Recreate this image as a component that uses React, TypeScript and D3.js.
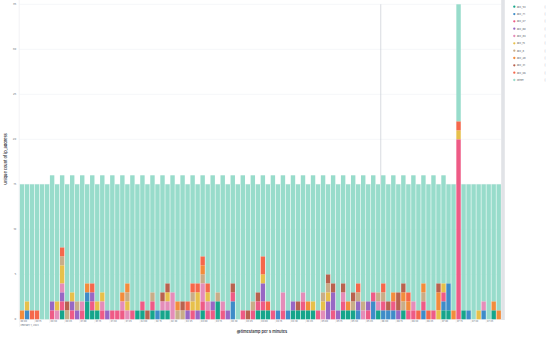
import React from 'react';
import * as d3 from 'd3';

const W = 550;
const H = 337;

const start = new Date(2023, 0, 1, 0, 0);
const end = new Date(2023, 0, 1, 8, 0);
const buckets: Date[] = d3.timeMinute.every(5)!.range(start, end);

const seriesNames = ['acc_53', 'acc_71', 'acc_47', 'acc_60', 'acc_84', 'acc_15', 'acc_8', 'acc_28', 'acc_31', 'acc_46', 'Other'];
const seriesColors = ['#16A58B', '#3E8CC8', '#EE5B86', '#9767C4', '#E48DB9', '#E7C04B', '#C8AD88', '#F28C3C', '#B8624F', '#F5674B', '#98DCCB'];

const acc_53 = [
  0,0,0,0,0,0,0,0,1,0,0,0, 0,2,1,1,0,0,0,0,0,0,0,1,
  1,0,1,0,1,1,0,0,0,0,0,0, 1,0,0,2,0,0,0,0,0,0,0,1,
  1,1,0,0,0,0,1,1,1,1,1,0, 0,0,0,0,1,1,1,0,0,0,0,1,
  0,0,0,0,1,0,0,0,0,0,0,0, 1,1,0,0,1,0,0,0,0,0,1,0,
];
const acc_71 = [
  0,1,0,0,0,0,0,0,0,0,0,0, 0,1,0,0,0,0,0,0,0,0,0,0,
  0,0,0,1,0,0,0,0,0,0,0,0, 0,0,0,0,0,0,2,0,0,0,0,0,
  0,0,0,1,0,1,0,0,0,0,0,0, 0,0,0,0,0,0,0,1,0,0,2,0,
  1,1,1,0,0,0,0,0,1,0,0,0, 1,3,0,0,0,1,0,0,1,0,0,0,
];
const acc_47 = [
  0,0,0,0,0,0,1,0,1,0,1,0, 1,0,1,0,1,0,1,1,1,0,1,0,
  1,0,1,0,0,0,0,0,0,0,1,0, 1,1,1,0,1,0,1,0,1,0,1,1,
  1,0,1,0,1,0,0,0,1,0,0,1, 0,0,1,0,1,0,0,0,0,1,1,0,
  1,0,1,0,0,1,1,0,1,0,1,0, 1,0,0,20,0,0,0,0,0,0,0,0,
];
const acc_60 = [
  0,0,0,0,0,0,1,0,1,0,1,1, 0,0,1,0,0,1,0,0,0,0,0,0,
  0,0,0,0,0,0,0,0,0,1,0,1, 0,0,1,0,0,1,0,0,0,0,0,0,
  2,0,0,0,0,0,1,0,0,0,0,0, 0,2,2,1,0,0,0,1,0,1,0,0,
  0,0,0,1,0,0,0,0,0,0,0,0, 0,0,0,0,0,0,0,0,0,0,0,0,
];
const acc_84 = [
  0,0,0,0,0,0,0,1,1,0,0,0, 1,0,0,0,1,0,0,0,1,1,0,0,
  0,0,0,0,1,1,3,0,0,0,0,0, 2,1,0,0,1,0,0,0,0,0,0,0,
  0,0,0,0,2,0,0,0,1,0,0,0, 1,0,0,0,1,0,0,0,1,0,0,1,
  0,0,0,0,0,0,1,0,0,0,0,0, 0,0,0,0,0,0,0,0,1,0,0,0,
];
const acc_15 = [
  0,1,0,0,0,0,0,1,2,0,1,0, 0,0,0,1,1,0,0,0,0,1,0,0,
  0,0,0,0,0,1,0,0,0,0,1,2, 0,1,0,0,0,0,0,0,0,0,0,0,
  1,0,0,0,0,0,0,0,0,0,1,0, 1,1,0,0,0,0,0,0,0,0,0,0,
  0,0,0,0,0,0,0,0,0,0,0,1, 1,0,0,1,0,0,0,1,0,0,0,0,
];
const acc_8 = [
  0,0,0,0,0,0,0,0,1,1,0,1, 0,0,0,0,0,0,0,0,0,1,0,0,
  0,0,1,0,0,0,0,1,1,0,1,0, 1,0,0,1,0,0,0,0,0,0,1,0,
  0,0,0,0,0,0,0,0,0,0,0,0, 1,1,0,0,0,0,1,1,1,0,0,1,
  1,0,0,0,1,0,0,0,1,0,0,0, 0,0,0,0,0,0,0,0,0,0,0,0,
];
const acc_28 = [
  1,0,0,0,0,0,0,0,0,0,0,0, 0,1,0,0,0,0,0,0,1,1,0,0,
  0,0,0,0,0,0,0,1,0,0,0,0, 1,0,0,0,0,0,0,0,0,0,0,0,
  0,0,0,0,0,0,0,0,0,1,0,0, 0,0,0,0,0,1,0,0,0,0,0,0,
  0,0,1,0,1,1,0,0,1,0,0,2, 0,0,1,0,0,0,0,0,0,0,1,1,
];
const acc_31 = [
  0,0,0,0,0,0,0,0,0,1,0,0, 0,0,0,0,0,0,0,0,0,0,0,0,
  0,1,0,0,1,1,0,0,1,0,0,0, 0,0,0,0,0,0,1,0,0,1,0,1,
  0,0,0,0,0,0,0,1,0,0,0,0, 0,1,1,0,1,0,1,0,0,0,0,0,
  0,1,0,2,1,0,0,0,0,0,0,1, 0,0,0,0,0,0,0,0,0,0,0,0,
];
const acc_46 = [
  0,0,1,1,0,0,0,0,1,0,0,0, 0,0,1,0,0,0,0,0,0,0,0,0,
  0,0,0,0,0,0,0,0,0,1,1,1, 1,1,0,0,0,0,0,0,0,0,0,0,
  2,1,0,0,0,0,0,0,0,0,0,0, 0,0,0,0,0,0,0,1,0,0,0,0,
  1,0,0,0,0,1,0,1,0,1,0,0, 0,0,0,1,0,0,0,0,0,0,0,0,
];
const other = [
  14,13,14,14,15,15,14,13,8,13,13,13, 14,11,12,13,13,14,15,14,13,11,15,14,
  14,14,13,14,13,11,13,13,14,13,12,11, 9,11,14,12,14,14,12,15,15,14,14,12,
  9,13,15,14,13,14,14,13,13,13,14,14, 13,10,12,14,12,13,13,11,14,13,13,12,
  12,13,13,12,12,12,14,14,12,14,15,11, 12,11,14,13,14,14,15,14,13,15,13,14,
];

const seriesValues = [acc_53, acc_71, acc_47, acc_60, acc_84, acc_15, acc_8, acc_28, acc_31, acc_46, other];

const yTicks = [0, 5, 10, 15, 20, 25, 30, 35];
const xTickLabels = [
  '00:00', '00:15', '00:30', '00:45', '01:00', '01:15', '01:30', '01:45',
  '02:00', '02:15', '02:30', '02:45', '03:00', '03:15', '03:30', '03:45',
  '04:00', '04:15', '04:30', '04:45', '05:00', '05:15', '05:30', '05:45',
  '06:00', '06:15', '06:30', '06:45', '07:00', '07:15', '07:30', '07:45',
];
const dateLabel = 'February 1, 2023';
const yTitle = 'Unique count of ip_address';
const xTitle = '@timestamp per 5 minutes';
const crosshairBucket = 72;

const FONT = 'Inter, "Open Sans", sans-serif';

export default function App() {
  const rows = buckets.map((_, i) => {
    const r: Record<string, number> = {};
    seriesNames.forEach((n, k) => (r[n] = seriesValues[k][i]));
    return r;
  });
  const stacked = d3.stack<Record<string, number>>().keys(seriesNames)(rows);

  const plotLeft = 19.5;
  const plotRight = 501.2;
  const x = d3
    .scaleBand<number>()
    .domain(d3.range(buckets.length))
    .range([plotLeft, plotRight])
    .paddingInner(0.12)
    .paddingOuter(0.06);
  const step = x.step();
  const y = d3.scaleLinear().domain([0, 35]).range([319.3, 4.3]);

  const tickIdx = xTickLabels.map((_, k) => k * 3);

  return (
    <svg
      width={W}
      height={H}
      style={{ position: 'absolute', left: 0, top: 0, background: '#fff' }}
      fontFamily={FONT}
    >
      {/* gridlines */}
      {yTicks.map((t) => (
        <line key={'g' + t} x1={plotLeft} x2={plotRight} y1={y(t)} y2={y(t)} stroke="#EEF0F3" strokeWidth={0.6} />
      ))}
      {/* crosshair */}
      <line
        x1={(x(crosshairBucket) as number) - (step - x.bandwidth()) / 2}
        x2={(x(crosshairBucket) as number) - (step - x.bandwidth()) / 2}
        y1={y(35)}
        y2={y(15)}
        stroke="#C6CAD1"
        strokeWidth={0.7}
      />
      {/* bars */}
      {stacked.map((s, k) => (
        <g key={s.key} fill={seriesColors[k]}>
          {s.map((d, i) =>
            d[1] - d[0] > 0 ? (
              <rect key={i} x={x(i)} width={x.bandwidth()} y={y(d[1])} height={y(d[0]) - y(d[1])} />
            ) : null
          )}
        </g>
      ))}
      {/* out-of-range band */}
      <rect x={plotRight} y={0} width={3.6} height={y(0) + 0.7} fill="#E1E3E7" />
      {/* y axis */}
      <line x1={plotLeft - 0.3} x2={plotLeft - 0.3} y1={0} y2={y(0)} stroke="#E3E5E9" strokeWidth={0.5} />
      {yTicks.map((t) => (
        <text key={'yt' + t} x={16.2} y={y(t)} dy="0.35em" textAnchor="end" fontSize={2.7} fill="#69707D">
          {t}
        </text>
      ))}
      <text
        transform={`translate(5.2, 159) rotate(-90)`}
        textAnchor="middle"
        dy="0.35em"
        fontSize={3.9}
        fontWeight={600}
        fill="#343741"
      >
        {yTitle}
      </text>
      {/* x axis */}
      {tickIdx.map((bi, k) => {
        const xx = (x(bi) as number) - (step - x.bandwidth()) / 2;
        return (
          <g key={'xt' + k}>
            <line x1={xx} x2={xx} y1={y(0)} y2={k === 0 ? 327 : 323} stroke="#E3E5E9" strokeWidth={0.4} />
            <text x={xx + 0.9} y={321.9} fontSize={2.3} fill="#69707D">
              {xTickLabels[k]}
            </text>
          </g>
        );
      })}
      <text x={plotLeft + 0.9} y={326.2} fontSize={2.3} fill="#69707D">
        {dateLabel}
      </text>
      <text x={262} y={333.3} textAnchor="middle" fontSize={3.9} fontWeight={600} fill="#343741">
        {xTitle}
      </text>
      {/* legend */}
      {seriesNames.map((n, k) => {
        const ly = 6.7 + k * 7.33;
        return (
          <g key={'lg' + n}>
            <circle cx={514.3} cy={ly} r={1.15} fill={seriesColors[k]} />
            <text x={516.9} y={ly} dy="0.35em" fontSize={2.6} fill="#535966">
              {n}
            </text>
            <text x={544.6} y={ly} dy="0.35em" fontSize={3} fill="#98A2B3">
              [
            </text>
          </g>
        );
      })}
    </svg>
  );
}
